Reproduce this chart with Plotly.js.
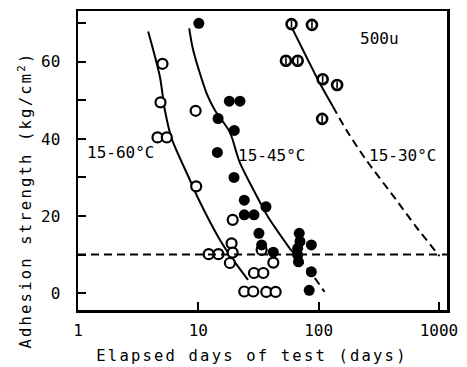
<!DOCTYPE html>
<html>
<head>
<meta charset="utf-8">
<script src="https://cdn.plot.ly/plotly-3.0.1.min.js"></script>
<style>
html,body{margin:0;padding:0;background:#fff;}
#chart{width:467px;height:367px;}
.xtitle,.ytitle{letter-spacing:2.2px;}
</style>
</head>
<body>
<div id="chart"></div>
<script>
// ---- data ----
// open circles: 15-60 °C
var open60X = [5.04, 4.85, 4.58, 5.47, 9.5, 9.6, 19.3, 18.9, 19.3, 18.3, 12.2, 14.7, 24.1, 28.6, 29, 34.7, 36.7, 43.9, 33.6, 42];
var open60Y = [59.5, 49.5, 40.4, 40.4, 47.3, 27.7, 19.0, 12.9, 10.5, 7.8, 10.1, 10.1, 0.4, 0.4, 5.2, 5.2, 0.3, 0.3, 11.2, 7.9];
// filled circles: 15-45 °C
var fill45X = [10.1, 18.1, 22.2, 14.6, 19.9, 14.4, 19.8, 24.1, 24.1, 29, 36.5, 31.9, 33.6, 42, 69, 70, 67, 67, 68, 87, 87, 83.5];
var fill45Y = [70, 49.8, 49.8, 45.3, 42.2, 36.5, 30, 24.1, 20.3, 20.3, 22.4, 15.5, 12.5, 10.6, 15.5, 13.4, 11.6, 9.9, 8.1, 12.5, 5.5, 0.7];
// hatched circles: 15-30 °C
var hat30X = [59.5, 88, 53.5, 67, 108, 142.5, 107];
var hat30Y = [69.8, 69.6, 60.3, 60.3, 55.5, 54, 45.2];
// fitted curves
var curve60X = [3.83, 4.79, 5.27, 5.99, 8.5, 9.96, 15.1, 18.2, 25.9];
var curve60Y = [67.9, 56.2, 47.5, 40.2, 29.4, 24.6, 13.8, 9.9, 3.4];
var curve45X = [8.4, 9.06, 11.7, 13.7, 18.3, 22.1, 32.4, 37.9, 57.4];
var curve45Y = [68.7, 63.1, 51.9, 47.5, 41.7, 33.9, 23.7, 19.8, 11.6];
var curve45DashX = [57.4, 86.9, 112];
var curve45DashY = [11.6, 5.1, 0.3];
var curve30X = [61.2, 81.5, 102, 131.5];
var curve30Y = [68.3, 60.5, 54.5, 48.4];
var curve30DashX = [131.5, 170, 249, 441, 646, 1010];
var curve30DashY = [48.4, 42.3, 34.5, 24.2, 17.2, 9.6];
var thresholdY = 10;
// ticks
var xTickVals = [1, 10, 100, 1000];
var xTickText = ['1', '10', '100', '1000'];
var yTickVals = [0, 20, 40, 60];
var yTickText = ['0', '20', '40', '60'];
var yMinorStep = 10;

var FONT = 'DejaVu Sans Mono, monospace';
var K = '#000';

function line(x, y, dash) {
  return {x: x, y: y, mode: 'lines', type: 'scatter', hoverinfo: 'skip',
          line: {color: K, width: 2, dash: dash || 'solid', shape: 'spline', smoothing: 0.8}};
}

var traces = [
  line(curve60X, curve60Y),
  line(curve45X, curve45Y),
  line(curve45DashX, curve45DashY, '8px,5px'),
  line(curve30X, curve30Y),
  line(curve30DashX, curve30DashY, '8px,5px'),
  {x: open60X, y: open60Y, mode: 'markers', type: 'scatter', name: '15-60°C',
   marker: {symbol: 'circle', size: 10, color: '#fff', line: {color: K, width: 2.2}}},
  {x: fill45X, y: fill45Y, mode: 'markers', type: 'scatter', name: '15-45°C',
   marker: {symbol: 'circle', size: 11, color: K, line: {color: K, width: 0}}},
  {x: hat30X, y: hat30Y, mode: 'markers', type: 'scatter', name: '15-30°C',
   marker: {symbol: 'circle', size: 10, color: '#fff', line: {color: K, width: 2.6}}},
  {x: hat30X, y: hat30Y, mode: 'markers', type: 'scatter', showlegend: false, hoverinfo: 'skip',
   marker: {symbol: 'line-ns-open', size: 5, color: K, line: {color: K, width: 1.6}}}
];

var layout = {
  width: 467, height: 367,
  margin: {l: 78, r: 20, t: 11, b: 57},
  paper_bgcolor: '#fff', plot_bgcolor: '#fff',
  showlegend: false,
  font: {family: FONT, size: 16, color: K},
  xaxis: {type: 'log', range: [0, 3.067], tickvals: xTickVals, ticktext: xTickText,
          ticks: 'inside', ticklen: 8, tickwidth: 2, tickcolor: K,
          showline: true, linewidth: 2.5, linecolor: K, mirror: true,
          showgrid: false, zeroline: false, ticklabelstandoff: 4,
          tickfont: {family: FONT, size: 16, color: K},
          title: {text: 'Elapsed days of test (days)', font: {family: FONT, size: 15.5, color: K}}},
  yaxis: {range: [-4.4, 73.2], tickvals: yTickVals, ticktext: yTickText,
          ticks: 'inside', ticklen: 8, tickwidth: 2, tickcolor: K,
          minor: {dtick: yMinorStep, tick0: 0, ticks: 'inside', ticklen: 8, tickwidth: 2, tickcolor: K, showgrid: false},
          showline: true, linewidth: 2.5, linecolor: K, mirror: true,
          showgrid: false, zeroline: false, ticklabelstandoff: 12,
          tickfont: {family: FONT, size: 16, color: K},
          title: {text: 'Adhesion strength (kg/cm<sup>2</sup>)', font: {family: FONT, size: 15.5, color: K}}},
  shapes: [{type: 'line', xref: 'paper', x0: 0, x1: 1, yref: 'y', y0: thresholdY, y1: thresholdY,
            line: {color: K, width: 2, dash: '8px,5px'}}],
  annotations: [
    {text: '15-60°C', xref: 'x', yref: 'y', x: 0.357, y: 36.6, showarrow: false, font: {family: FONT, size: 16, color: K}},
    {text: '15-45°C', xref: 'x', yref: 'y', x: 1.61, y: 35.8, showarrow: false, font: {family: FONT, size: 16, color: K}},
    {text: '15-30°C', xref: 'x', yref: 'y', x: 2.70, y: 35.8, showarrow: false, font: {family: FONT, size: 16, color: K}},
    {text: '500u', xref: 'x', yref: 'y', x: 2.506, y: 66, showarrow: false, font: {family: FONT, size: 16, color: K}}
  ]
};

// target centres of the axis titles in the reference (px)
var xTitleCenter = [252, 356];
var yTitleCenter = [25, 200];

function place(sel, target) {
  var el = document.querySelector(sel);
  if (!el) return;
  var r = el.getBoundingClientRect();
  var cx = r.left + r.width / 2, cy = r.top + r.height / 2;
  var dx = target[0] - cx, dy = target[1] - cy;
  var tr = el.getAttribute('transform') || '';
  el.setAttribute('transform', 'translate(' + dx.toFixed(1) + ',' + dy.toFixed(1) + ') ' + tr);
}

Plotly.newPlot('chart', traces, layout, {displayModeBar: false, staticPlot: true}).then(function () {
  place('.xtitle', xTitleCenter);
  place('.ytitle', yTitleCenter);
  // drop empty helper text nodes that Plotly leaves behind
  document.querySelectorAll('#chart text').forEach(function (t) {
    if (!t.textContent || !t.textContent.trim()) t.parentNode.removeChild(t);
  });
});
</script>
</body>
</html>
